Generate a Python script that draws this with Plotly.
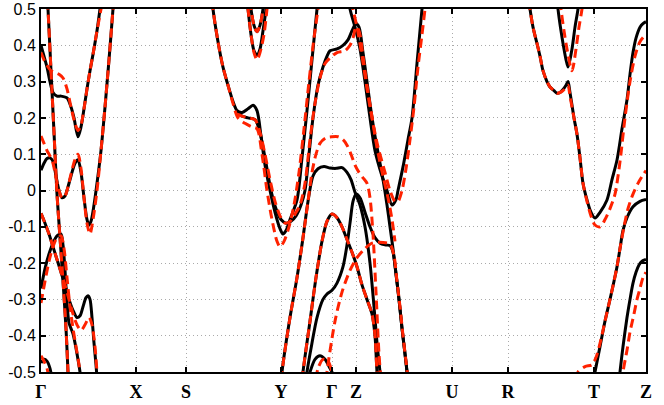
import plotly.graph_objects as go

# high-symmetry points along the k-path
kpt_pos = [0, 95, 145, 240, 291, 315, 411, 467, 553, 605]
kpt_lab = ["Γ", "X", "S", "Y", "Γ", "Z", "U", "R", "T", "Z"]
e_ticks = [0.5, 0.4, 0.3, 0.2, 0.1, 0, -0.1, -0.2, -0.3, -0.4, -0.5]
e_labels = ["0.5", "0.4", "0.3", "0.2", "0.1", "0", "-0.1", "-0.2", "-0.3", "-0.4", "-0.5"]

# ---- black (solid) bands ----
k_bA = [0, 3, 6, 9, 12, 16, 20, 26, 30, 33, 37, 40, 43, 46, 49, 52, 56, 59, 61]
e_bA = [0.40, 0.37, 0.34, 0.30, 0.27, 0.26, 0.26, 0.255, 0.23, 0.2, 0.148, 0.175, 0.225, 0.28, 0.33, 0.375, 0.44, 0.5, 0.54]
k_bB = [5, 7, 10, 13, 16, 19, 22, 25, 27, 28]
e_bB = [0.6, 0.5, 0.33, 0.16, -0.01, -0.13, -0.25, -0.38, -0.5, -0.56]
k_bC = [0, 3, 6, 9, 12, 15, 18, 21, 24, 27, 30, 34, 37, 40, 43, 46, 48, 50, 53, 56, 60, 64, 68, 72, 74]
e_bC = [0.056, 0.075, 0.088, 0.09, 0.08, 0.04, 0.0, -0.02, -0.015, 0.01, 0.04, 0.075, 0.085, 0.05, -0.02, -0.08, -0.095, -0.085, -0.04, 0.02, 0.11, 0.23, 0.36, 0.5, 0.57]
k_bL1 = [0, 4, 8, 12, 16, 20, 24, 28, 32, 36, 39, 42, 45, 47, 49, 51, 53, 55, 57]
e_bL1 = [-0.063, -0.09, -0.12, -0.155, -0.19, -0.225, -0.26, -0.3, -0.33, -0.35, -0.345, -0.32, -0.295, -0.29, -0.3, -0.35, -0.42, -0.48, -0.55]
k_bL2 = [0, 4, 8, 12, 16, 20, 22, 24, 26, 28, 30, 32, 34, 36, 39, 41]
e_bL2 = [-0.27, -0.215, -0.175, -0.145, -0.125, -0.12, -0.15, -0.22, -0.31, -0.365, -0.38, -0.395, -0.42, -0.45, -0.5, -0.55]
k_bArc1 = [0, 3, 6, 9, 11]
e_bArc1 = [-0.475, -0.465, -0.47, -0.49, -0.52]

k_bDa = [170, 172, 177, 182, 187, 192, 196, 201, 207, 212, 216, 220, 224, 229, 234, 239, 242, 245, 249, 256, 261, 266, 271, 276, 278]
e_bDa = [0.56, 0.5, 0.41, 0.34, 0.29, 0.245, 0.22, 0.215, 0.225, 0.235, 0.22, 0.15, 0.07, 0.0, -0.06, -0.105, -0.12, -0.11, -0.08, -0.026, 0.09, 0.22, 0.36, 0.5, 0.56]
k_bDb = [196, 201, 207, 214, 218, 222, 226, 230, 235, 240, 245, 250, 255, 260, 264, 268, 272, 277, 282, 286,
         289, 296, 302, 307, 311, 315, 318, 322, 326, 330, 334, 338, 342, 346, 349, 352, 355, 358, 361, 364, 366, 367]
e_bDb = [0.22, 0.205, 0.2, 0.195, 0.17, 0.12, 0.06, 0.0, -0.05, -0.08, -0.09, -0.085, -0.07, -0.04, 0.0, 0.1, 0.2, 0.29, 0.34, 0.37,
         0.385, 0.39, 0.4, 0.415, 0.44, 0.46, 0.45, 0.38, 0.3, 0.22, 0.15, 0.09, 0.03, -0.04, -0.1, -0.16, -0.23, -0.3, -0.38, -0.45, -0.5, -0.55]
k_bT1 = [306, 309, 314, 319, 324, 329, 334, 341, 346, 351, 355, 357, 362, 367, 371, 376, 381, 383]
e_bT1 = [0.56, 0.5, 0.45, 0.39, 0.3, 0.2, 0.11, 0.04, 0.0, -0.04, -0.025, 0.0, 0.065, 0.14, 0.2, 0.35, 0.5, 0.56]
k_bH = [239, 241, 249, 256, 262, 267, 272, 277, 283, 289, 295, 301, 306, 310, 314, 319, 324, 329, 333, 336, 339, 341]
e_bH = [-0.56, -0.5, -0.35, -0.24, -0.13, -0.03, 0.04, 0.06, 0.066, 0.062, 0.061, 0.063, 0.05, 0.03, -0.005, -0.04, -0.1, -0.2, -0.32, -0.42, -0.5, -0.56]
k_bL4 = [260, 262, 269, 275, 281, 286, 291, 296, 301, 306, 311, 316, 321, 326, 331, 334, 336, 338]
e_bL4 = [-0.56, -0.5, -0.36, -0.24, -0.14, -0.085, -0.065, -0.075, -0.1, -0.135, -0.17, -0.21, -0.26, -0.3, -0.34, -0.4, -0.5, -0.56]
k_bL5 = [264, 266, 271, 276, 282, 286, 291, 296, 302, 306, 309, 312, 315, 319, 324, 329, 334, 339, 345, 349, 352, 355, 358, 361, 364, 366, 367]
e_bL5 = [-0.56, -0.5, -0.42, -0.35, -0.3, -0.285, -0.275, -0.255, -0.21, -0.15, -0.09, -0.03, -0.01, -0.02, -0.06, -0.1, -0.13, -0.145, -0.15, -0.152, -0.17, -0.23, -0.3, -0.38, -0.45, -0.5, -0.55]
k_bArc2 = [267, 269, 274, 279, 284, 289, 291, 293]
e_bArc2 = [-0.52, -0.5, -0.465, -0.455, -0.465, -0.49, -0.5, -0.52]
k_bV1 = [204, 207, 210, 213, 216, 219, 222, 225, 227]
e_bV1 = [0.58, 0.5, 0.43, 0.385, 0.373, 0.39, 0.44, 0.5, 0.56]
k_bV2 = [208, 210, 213, 216, 219, 222, 224]
e_bV2 = [0.56, 0.5, 0.455, 0.437, 0.455, 0.5, 0.56]

k_bW = [486, 489, 492, 496, 499, 502, 506, 509, 513, 516, 519, 522, 525, 527, 529, 533, 536, 539, 542, 546,
        550, 554, 559, 566, 571, 576, 581, 586, 589, 592, 595, 599, 602, 605]
e_bW = [0.56, 0.5, 0.45, 0.405, 0.37, 0.33, 0.3, 0.285, 0.275, 0.268, 0.27, 0.278, 0.29, 0.3, 0.27, 0.2, 0.155, 0.09, 0.02, -0.026,
        -0.06, -0.076, -0.06, -0.026, 0.03, 0.084, 0.17, 0.25, 0.32, 0.38, 0.42, 0.45, 0.46, 0.465]
k_bV3 = [515, 517, 520, 523, 527, 531, 534, 537, 539]
e_bV3 = [0.56, 0.5, 0.44, 0.39, 0.34, 0.39, 0.45, 0.5, 0.55]
k_bS = [552, 554, 559, 564, 569, 573, 576, 579, 582, 586, 592, 599, 605]
e_bS = [-0.53, -0.5, -0.43, -0.36, -0.3, -0.25, -0.21, -0.16, -0.11, -0.075, -0.045, -0.03, -0.025]
k_bLR = [578, 579, 582, 586, 589, 592, 595, 598, 601, 605]
e_bLR = [-0.53, -0.5, -0.43, -0.35, -0.3, -0.255, -0.225, -0.205, -0.195, -0.19]

# ---- red (dashed) bands ----
k_rA = [0, 3, 6, 10, 14, 18, 22, 26, 30, 34, 37, 40, 43, 46, 49, 52, 56, 60, 62]
e_rA = [0.38, 0.36, 0.345, 0.33, 0.325, 0.32, 0.31, 0.28, 0.23, 0.185, 0.165, 0.18, 0.225, 0.28, 0.33, 0.375, 0.44, 0.5, 0.54]
k_rC = [0, 3, 6, 9, 12, 15, 18, 21, 24, 27, 30, 34, 37, 40, 43, 46, 49, 52, 56, 60, 64, 68, 72, 74]
e_rC = [0.15, 0.13, 0.11, 0.095, 0.075, 0.035, 0.0, -0.02, -0.015, 0.01, 0.045, 0.085, 0.1, 0.06, -0.02, -0.09, -0.12, -0.08, 0.0, 0.11, 0.23, 0.36, 0.5, 0.57]
k_rL1 = [0, 4, 8, 12, 16, 20, 24, 28, 32, 36, 40, 44, 48, 51, 54, 56, 58]
e_rL1 = [-0.063, -0.09, -0.12, -0.155, -0.19, -0.225, -0.26, -0.3, -0.34, -0.37, -0.385, -0.37, -0.35, -0.37, -0.43, -0.5, -0.56]
k_rL2 = [0, 4, 8, 12, 16, 20, 23, 26, 29, 32, 35, 38, 41]
e_rL2 = [-0.31, -0.25, -0.195, -0.155, -0.13, -0.125, -0.16, -0.24, -0.32, -0.38, -0.43, -0.48, -0.55]
k_rArc1 = [0, 3, 6, 8]
e_rArc1 = [-0.455, -0.47, -0.49, -0.52]

k_rDa = [170, 172, 177, 182, 187, 192, 197, 204, 211, 216, 221, 226, 231, 236, 239, 243, 248, 253, 258, 263, 268, 273, 277, 279]
e_rDa = [0.56, 0.5, 0.41, 0.34, 0.29, 0.24, 0.2, 0.185, 0.175, 0.17, 0.1, 0.0, -0.08, -0.14, -0.155, -0.14, -0.1, -0.04, 0.05, 0.17, 0.3, 0.42, 0.5, 0.55]
k_rDb = [196, 201, 207, 214, 219, 224, 229, 234, 239, 244, 249, 254, 259, 264, 269, 274, 279, 284, 289, 296,
         304, 309, 312, 315, 318, 322, 326, 330, 334, 338, 342, 347, 351, 354]
e_rDb = [0.21, 0.205, 0.2, 0.195, 0.16, 0.1, 0.03, -0.03, -0.07, -0.09, -0.085, -0.065, -0.04, 0.02, 0.14, 0.24, 0.31, 0.35, 0.365, 0.38,
         0.385, 0.4, 0.42, 0.45, 0.44, 0.37, 0.29, 0.22, 0.15, 0.09, 0.04, -0.02, -0.08, -0.14]
k_rT1 = [309, 312, 316, 321, 326, 331, 337, 344, 349, 354, 357, 361, 365, 369, 373, 377, 381, 384, 386]
e_rT1 = [0.56, 0.5, 0.45, 0.37, 0.28, 0.2, 0.12, 0.05, 0.0, -0.03, -0.03, 0.0, 0.06, 0.14, 0.23, 0.34, 0.43, 0.5, 0.56]
k_rH = [239, 241, 249, 256, 262, 267, 271, 275, 279, 285, 291, 297, 302, 306, 310, 314, 318, 322, 326, 329, 332, 335, 338, 341]
e_rH = [-0.56, -0.5, -0.35, -0.24, -0.13, -0.03, 0.05, 0.1, 0.13, 0.145, 0.148, 0.148, 0.14, 0.125, 0.1, 0.07, 0.05, 0.035, 0.02, -0.02, -0.12, -0.28, -0.45, -0.56]
k_rL4 = k_bL4
e_rL4 = e_bL4
k_rL5 = [284, 286, 294, 301, 309, 316, 324, 331, 342, 349, 353, 356, 359, 362, 365, 367]
e_rL5 = [-0.56, -0.5, -0.36, -0.28, -0.22, -0.185, -0.16, -0.145, -0.143, -0.148, -0.18, -0.25, -0.32, -0.4, -0.47, -0.52]
k_rArc2 = [275, 277, 282, 287, 291, 293]
e_rArc2 = [-0.52, -0.49, -0.465, -0.47, -0.5, -0.52]
k_rV1 = [204, 207, 210, 213, 216, 219, 223, 226, 228]
e_rV1 = [0.58, 0.5, 0.43, 0.38, 0.36, 0.38, 0.43, 0.5, 0.56]
k_rV2 = k_bV2
e_rV2 = e_bV2

k_rW = [486, 489, 492, 496, 499, 502, 506, 509, 513, 516, 519, 522, 525, 527, 529, 533, 536, 539, 542, 546,
        550, 554, 559, 564, 569, 574, 579, 584, 589, 594, 599, 605]
e_rW = [0.56, 0.5, 0.45, 0.405, 0.37, 0.33, 0.3, 0.285, 0.275, 0.268, 0.27, 0.275, 0.285, 0.29, 0.26, 0.2, 0.155, 0.09, 0.02, -0.03,
        -0.07, -0.095, -0.1, -0.08, -0.05, -0.01, 0.08, 0.2, 0.3, 0.37, 0.41, 0.43]
k_rV3 = [518, 520, 523, 526, 531, 535, 538, 541, 543]
e_rV3 = [0.56, 0.5, 0.44, 0.39, 0.33, 0.39, 0.45, 0.5, 0.55]
k_rS = [535, 537, 544, 551, 555, 560, 564, 569, 573, 576, 579, 583, 587, 592, 598, 605]
e_rS = [-0.52, -0.5, -0.485, -0.48, -0.46, -0.41, -0.36, -0.3, -0.25, -0.21, -0.16, -0.1, -0.05, -0.01, 0.025, 0.055]
k_rLR = [581, 582, 586, 589, 593, 596, 599, 602, 605]
e_rLR = [-0.53, -0.5, -0.44, -0.39, -0.34, -0.3, -0.27, -0.24, -0.225]

black_bands = [
    (k_bA, e_bA), (k_bB, e_bB), (k_bC, e_bC), (k_bL1, e_bL1), (k_bL2, e_bL2), (k_bArc1, e_bArc1),
    (k_bDa, e_bDa), (k_bDb, e_bDb), (k_bT1, e_bT1), (k_bH, e_bH), (k_bL4, e_bL4), (k_bL5, e_bL5),
    (k_bArc2, e_bArc2), (k_bV1, e_bV1), (k_bV2, e_bV2), (k_bW, e_bW), (k_bV3, e_bV3), (k_bS, e_bS), (k_bLR, e_bLR),
]
red_bands = [
    (k_rA, e_rA), (k_bB, e_bB), (k_rC, e_rC), (k_rL1, e_rL1), (k_rL2, e_rL2), (k_rArc1, e_rArc1),
    (k_rDa, e_rDa), (k_rDb, e_rDb), (k_rT1, e_rT1), (k_rH, e_rH), (k_rL4, e_rL4), (k_rL5, e_rL5),
    (k_rArc2, e_rArc2), (k_rV1, e_rV1), (k_rV2, e_rV2), (k_rW, e_rW), (k_rV3, e_rV3), (k_rS, e_rS), (k_rLR, e_rLR),
]

fig = go.Figure()
for k, e in black_bands:
    fig.add_trace(go.Scatter(x=k, y=e, mode="lines", showlegend=False, hoverinfo="skip",
                             line=dict(color="black", width=3, shape="spline", smoothing=0.8)))
for k, e in red_bands:
    fig.add_trace(go.Scatter(x=k, y=e, mode="lines", showlegend=False, hoverinfo="skip",
                             line=dict(color="#ff2200", width=3, dash="9px,5px", shape="spline", smoothing=0.8)))

fig.update_layout(
    width=664, height=405,
    margin=dict(l=41, r=18, t=9, b=33, autoexpand=False),
    paper_bgcolor="white", plot_bgcolor="white",
    showlegend=False,
)
fig.update_xaxes(
    range=[0, 605], tickmode="array", tickvals=kpt_pos,
    ticktext=["<b>%s</b>" % s for s in kpt_lab],
    tickfont=dict(family="Liberation Serif", size=18, color="black"),
    ticks="inside", ticklen=5, tickcolor="black", tickwidth=1.5, ticklabelstandoff=2,
    showline=True, linecolor="black", linewidth=2, mirror="ticks",
    showgrid=True, gridcolor="#aaaaaa", griddash="1px,3px", gridwidth=1,
    zeroline=False, automargin=False,
)
fig.update_yaxes(
    range=[-0.5, 0.5], tickmode="array", tickvals=e_ticks, ticktext=e_labels,
    tickfont=dict(family="Liberation Sans", size=16, color="black"),
    ticks="inside", ticklen=5, tickcolor="black", tickwidth=1.5,
    showline=True, linecolor="black", linewidth=2, mirror="ticks",
    showgrid=True, gridcolor="#aaaaaa", griddash="1px,3px", gridwidth=1,
    zeroline=False, automargin=False,
)

fig.write_html("out.html", config={"displayModeBar": False},
               post_script="document.body.style.margin='0';")
